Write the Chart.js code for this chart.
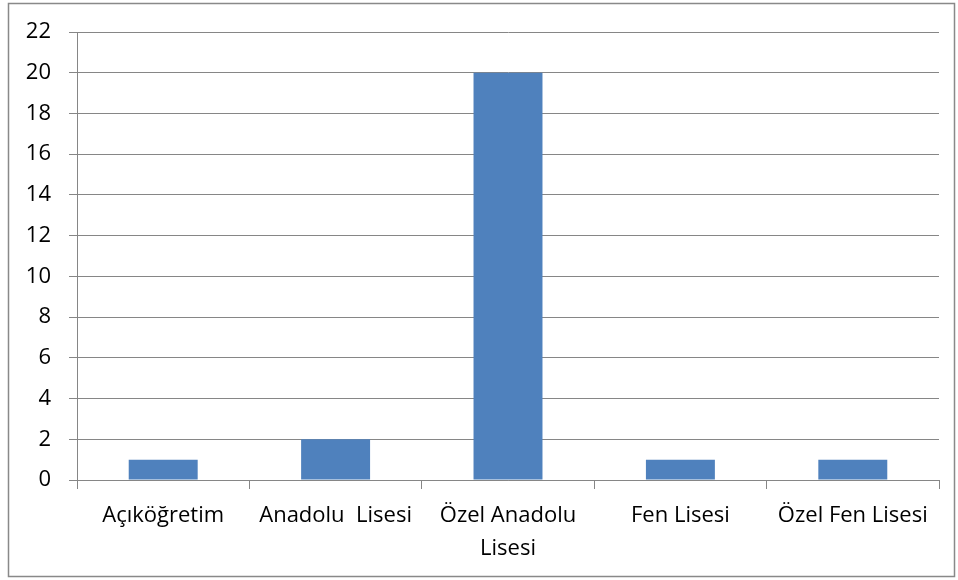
<!DOCTYPE html>
<html>
<head>
<meta charset="utf-8">
<script src="https://cdn.jsdelivr.net/npm/chart.js@4"></script>
<style>
html,body{margin:0;padding:0;background:#fff;}
#wrap{position:relative;width:958px;height:580px;}
</style>
</head>
<body>
<div id="wrap"><canvas id="c" width="958" height="580"></canvas></div>
<script>
const categories = ['Açıköğretim', 'Anadolu  Lisesi', ['Özel Anadolu', 'Lisesi'], 'Fen Lisesi', 'Özel Fen Lisesi'];
const values = [1, 2, 20, 1, 1];
const yMin = 0, yMax = 22, yStep = 2;

const frame = {
  id: 'frame',
  beforeDraw(chart) {
    const ctx = chart.ctx;
    ctx.save();
    ctx.fillStyle = '#fff';
    ctx.fillRect(0, 0, chart.width, chart.height);
    ctx.strokeStyle = '#898989';
    ctx.lineWidth = 1.5;
    ctx.strokeRect(8.5, 3.5, 946, 573);
    ctx.restore();
  }
};

const FONT = "'Open Sans', sans-serif";
new Chart(document.getElementById('c'), {
  type: 'bar',
  data: {
    labels: categories,
    datasets: [{
      data: values,
      backgroundColor: '#4F81BD',
      borderWidth: 0,
      barPercentage: 0.4,
      categoryPercentage: 1.0
    }]
  },
  options: {
    responsive: false,
    animation: false,
    devicePixelRatio: 1,
    layout: { padding: { top: 32, right: 19, left: 0, bottom: 0 } },
    plugins: { legend: { display: false }, tooltip: { enabled: false } },
    scales: {
      x: {
        offset: true,
        grid: { display: true, drawOnChartArea: false, drawTicks: true, tickLength: 9, color: '#868686', offset: true },
        border: { display: true, color: '#868686', width: 1 },
        ticks: { color: '#000', font: { family: FONT, size: 22, lineHeight: 1.5 }, padding: 10, maxRotation: 0, autoSkip: false },
        afterFit(scale) { scale.height = 100; }
      },
      y: {
        min: yMin, max: yMax,
        grid: { color: '#868686', lineWidth: 1, tickLength: 8 },
        border: { display: true, color: '#868686', width: 1 },
        ticks: { stepSize: yStep, color: '#000', font: { family: FONT, size: 22 }, padding: 18 },
        afterFit(scale) { scale.width = 77; }
      }
    }
  },
  plugins: [frame]
});
</script>
</body>
</html>
